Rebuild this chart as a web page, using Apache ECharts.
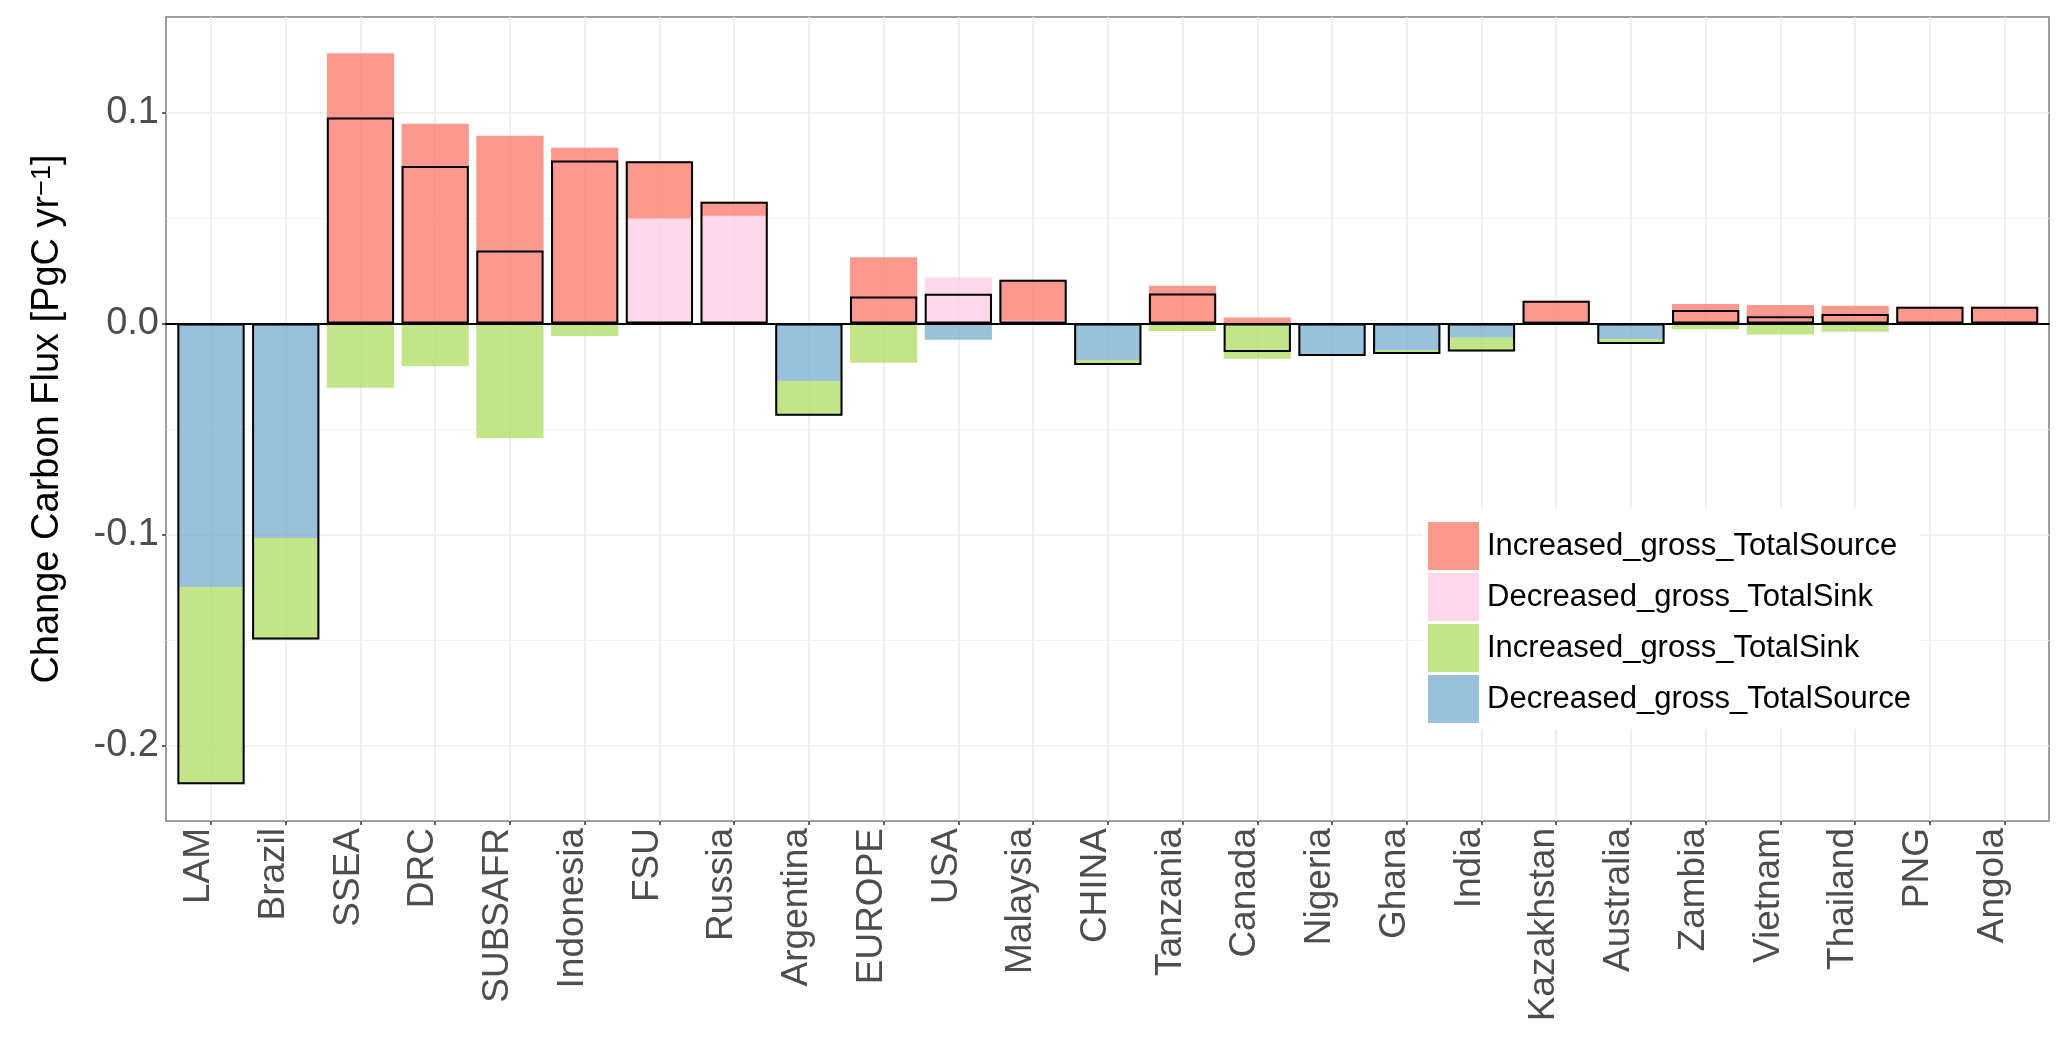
<!DOCTYPE html>
<html><head><meta charset="utf-8">
<script src="https://cdn.jsdelivr.net/npm/echarts@6/dist/echarts.min.js"></script>
<style>html,body{margin:0;padding:0;background:#fff}#c{width:2067px;height:1041px}</style>
</head><body><div id="c"></div>
<script>
// ---- data ----
const categories = ['LAM','Brazil','SSEA','DRC','SUBSAFR','Indonesia','FSU','Russia','Argentina','EUROPE','USA','Malaysia','CHINA','Tanzania','Canada','Nigeria','Ghana','India','Kazakhstan','Australia','Zambia','Vietnam','Thailand','PNG','Angola'];
const incSource = [0, 0, 0.128, 0.0946, 0.0889, 0.0832, 0.0272, 0.0067, 0, 0.0314, 0, 0.0194, 0, 0.0178, 0.0028, 0, 0, 0, 0.0097, 0, 0.0092, 0.0087, 0.0084, 0.0079, 0.0079];
const decSink   = [0, 0, 0, 0, 0, 0, 0.0497, 0.051, 0, 0, 0.0217, 0.0013, 0, 0, 0, 0, 0, 0, 0.001, 0, 0, 0, 0, 0, 0];
const incSink   = [-0.0934, -0.0481, -0.0305, -0.0203, -0.0543, -0.006, 0, 0, -0.0165, -0.0186, 0, 0, -0.0023, -0.0036, -0.0167, 0, -0.0019, -0.0065, 0, -0.002, -0.0028, -0.0052, -0.004, 0, 0];
const decSource = [-0.125, -0.1017, 0, 0, 0, 0, 0, 0, -0.0273, 0, -0.0077, 0, -0.0174, 0, 0, -0.0155, -0.0126, -0.0068, 0, -0.0075, 0, 0, 0, 0, 0];
const netFlux   = [-0.2184, -0.1498, 0.0976, 0.0746, 0.0346, 0.0772, 0.0769, 0.0577, -0.0438, 0.0127, 0.014, 0.0207, -0.0197, 0.0142, -0.0136, -0.0155, -0.0145, -0.0133, 0.0107, -0.0097, 0.0063, 0.0034, 0.0044, 0.0079, 0.0079];
const yTicks = [-0.2, -0.1, 0.0, 0.1];
const minorBreaks = [-0.15, -0.05, 0.05];
const seriesNames = ['Increased_gross_TotalSource','Decreased_gross_TotalSink','Increased_gross_TotalSink','Decreased_gross_TotalSource'];
const yMin = -0.2358, yMax = 0.1452;

// ---- layout / style ----
const FONT = '"Liberation Sans", Arial, Helvetica, sans-serif';
const W = 2067, H = 1041;
const panel = {left: 166, right: 2049, top: 17, bottom: 821};
const firstC = 211, lastC = 2004.6;
const unit = (lastC - firstC) / (categories.length - 1);
const colors = {
  incSource: 'rgba(251,128,114,0.8)',
  decSink: 'rgba(252,205,229,0.8)',
  incSink: 'rgba(179,222,105,0.8)',
  decSource: 'rgba(128,177,211,0.8)'
};
const isTick = v => yTicks.some(t => Math.abs(t - v) < 1e-9);

const chart = echarts.init(document.getElementById('c'), null, {renderer: 'canvas'});
const gridBase = {top: panel.top, bottom: H - panel.bottom, outerBoundsMode: 'none', containLabel: false};
const option = {
  animation: false,
  backgroundColor: '#fff',
  grid: [
    Object.assign({left: panel.left, right: W - panel.right, show: true, borderColor: '#7f7f7f', borderWidth: 1.5, backgroundColor: 'rgba(0,0,0,0)'}, gridBase),
    Object.assign({left: firstC, right: W - lastC}, gridBase),
    Object.assign({left: firstC - unit / 2, right: W - (lastC + unit / 2)}, gridBase)
  ],
  xAxis: [
    {gridIndex: 0, type: 'value', min: 0, max: 1, z: 10,
     axisLine: {show: true, onZero: true, lineStyle: {color: '#000', width: 1.8}},
     axisTick: {show: false}, axisLabel: {show: false}, splitLine: {show: false}},
    {gridIndex: 1, type: 'category', data: categories, boundaryGap: false,
     axisLine: {show: false, onZero: false},
     axisTick: {show: true, length: 4, lineStyle: {color: '#333', width: 1.5}},
     axisLabel: {interval: 0, rotate: 90, fontSize: 37, color: '#4D4D4D', fontFamily: FONT, margin: 7, verticalAlign: 'bottom', lineHeight: 24},
     splitLine: {show: true, lineStyle: {color: '#EBEBEB', width: 1.6}}},
    {gridIndex: 2, type: 'category', data: categories, boundaryGap: true, show: false, axisLine: {onZero: false}}
  ],
  yAxis: [
    {gridIndex: 0, type: 'value', min: yMin, max: yMax, minInterval: 0.1, maxInterval: 0.1,
     axisLine: {show: false},
     axisTick: {show: true, length: 4, lineStyle: {color: '#333', width: 1.5}, customValues: yTicks},
     axisLabel: {fontSize: 38, color: '#4D4D4D', fontFamily: FONT, margin: 7, formatter: v => isTick(v) ? v.toFixed(1) : ''},
     splitLine: {show: true, lineStyle: {color: '#EBEBEB', width: 1.6}},
     name: 'Change Carbon Flux [PgC yr{sup|\u22121}]', nameLocation: 'middle', nameRotate: 90, nameGap: 99,
     nameTextStyle: {fontSize: 38, color: '#000', fontFamily: FONT,
       rich: {sup: {fontSize: 27, color: '#000', fontFamily: FONT, verticalAlign: 'top'}}}},
    {gridIndex: 1, type: 'value', min: yMin, max: yMax, show: false},
    {gridIndex: 2, type: 'value', min: yMin, max: yMax, show: false}
  ],
  legend: {
    data: seriesNames, orient: 'vertical', left: 1423, top: 508,
    itemWidth: 51, itemHeight: 48, itemGap: 3, icon: 'rect',
    padding: [14, 9, 6, 5], backgroundColor: '#fff', selectedMode: false,
    textStyle: {fontSize: 31, color: '#000', fontFamily: FONT, padding: [0, 0, 0, 3]}
  },
  series: [
    {type: 'line', xAxisIndex: 0, yAxisIndex: 0, data: [], silent: true, z: 0,
     markLine: {silent: true, z: 1, symbol: ['none', 'none'], label: {show: false}, animation: false,
       lineStyle: {color: '#F1F1F1', width: 0.9, type: 'solid'}, emphasis: {disabled: true},
       data: minorBreaks.map(v => ({yAxis: v}))}},
    {name: seriesNames[1], type: 'bar', xAxisIndex: 2, yAxisIndex: 2, stack: 'flux', barWidth: '90%', data: decSink, itemStyle: {color: colors.decSink}, emphasis: {disabled: true}},
    {name: seriesNames[0], type: 'bar', xAxisIndex: 2, yAxisIndex: 2, stack: 'flux', barWidth: '90%', data: incSource, itemStyle: {color: colors.incSource}, emphasis: {disabled: true}},
    {name: seriesNames[3], type: 'bar', xAxisIndex: 2, yAxisIndex: 2, stack: 'flux', barWidth: '90%', data: decSource, itemStyle: {color: colors.decSource}, emphasis: {disabled: true}},
    {name: seriesNames[2], type: 'bar', xAxisIndex: 2, yAxisIndex: 2, stack: 'flux', barWidth: '90%', data: incSink, itemStyle: {color: colors.incSink}, emphasis: {disabled: true}},
    {name: 'Net', type: 'bar', xAxisIndex: 2, yAxisIndex: 2, barWidth: '90%', barGap: '-100%', z: 3, data: netFlux,
     itemStyle: {color: 'rgba(0,0,0,0)', borderColor: '#000', borderWidth: 2}, emphasis: {disabled: true}}
  ]
};
chart.setOption(option);
</script></body></html>
